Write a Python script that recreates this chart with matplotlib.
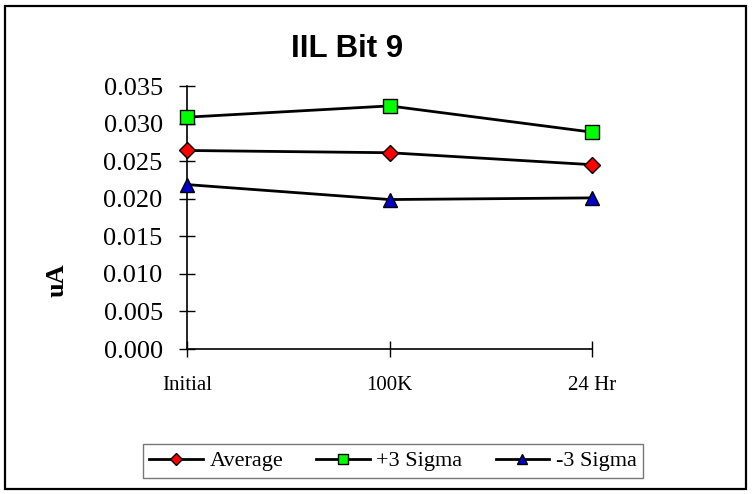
import matplotlib.pyplot as plt
from matplotlib.patches import Rectangle

# data
cats = ['Initial', '100K', '24 Hr']
average = [0.02642, 0.02612, 0.02453]
plus3 = [0.03085, 0.03235, 0.02886]
minus3 = [0.02188, 0.01989, 0.02011]

fig = plt.figure(figsize=(7.52, 4.94), dpi=100)
W, H = 752, 494
ax = fig.add_axes([187 / W, 1 - 349 / H, (592 - 187) / W, (349 - 86) / H])

x = range(len(cats))
ax.plot(x, average, color='black', lw=2, marker='D', ms=8, mfc='red', mec='black', mew=1,
        label='Average', clip_on=False, zorder=3)
ax.plot(x, plus3, color='black', lw=2, marker='s', ms=9.5, mfc='#00ff00', mec='black', mew=1,
        label='+3 Sigma', clip_on=False, zorder=3)
ax.plot(x, minus3, color='black', lw=2, marker='^', ms=10, mfc='#0000cc', mec='black', mew=1,
        label='-3 Sigma', clip_on=False, zorder=3)

ax.set_xlim(0, 2)
ax.set_ylim(0, 0.035)
ax.set_yticks([i * 0.005 for i in range(8)])
ax.set_yticklabels([f'{i * 0.005:.3f}' for i in range(8)], fontfamily='Liberation Serif', fontsize=19)
ax.set_xticks(list(x))
ax.set_xticklabels(cats, fontfamily='Liberation Serif', fontsize=15)
ax.tick_params(axis='y', direction='inout', length=11, width=1, pad=12)
ax.tick_params(axis='x', direction='inout', length=11, width=1, pad=14)
for s in ['top', 'right']:
    ax.spines[s].set_visible(False)
ax.spines['left'].set_linewidth(1.2)
ax.spines['bottom'].set_linewidth(1.2)

fig.text(57 / W, 1 - 280 / H, 'uA', rotation=90, ha='center', va='center',
         fontfamily='Liberation Serif', fontweight='bold', fontsize=19)
fig.text(347 / W, 1 - 49 / H, 'IIL Bit 9', ha='center', va='center',
         fontfamily='Liberation Sans', fontweight='bold', fontsize=22.5)

leg = fig.legend(loc='center', bbox_to_anchor=(393 / W, 1 - 461 / H), ncol=3,
                 prop={'family': 'Liberation Serif', 'size': 16}, frameon=True,
                 fancybox=False, edgecolor='#555555', handlelength=2.4,
                 columnspacing=1.5, handletextpad=0.3, borderpad=0.3, markerscale=0.75)
leg.get_frame().set_linewidth(1)

fig.patches.append(Rectangle((5 / W, 5 / H), 741 / W, 483 / H, transform=fig.transFigure,
                             fill=False, edgecolor='black', lw=1.6))

fig.savefig('out.png', dpi=100)
